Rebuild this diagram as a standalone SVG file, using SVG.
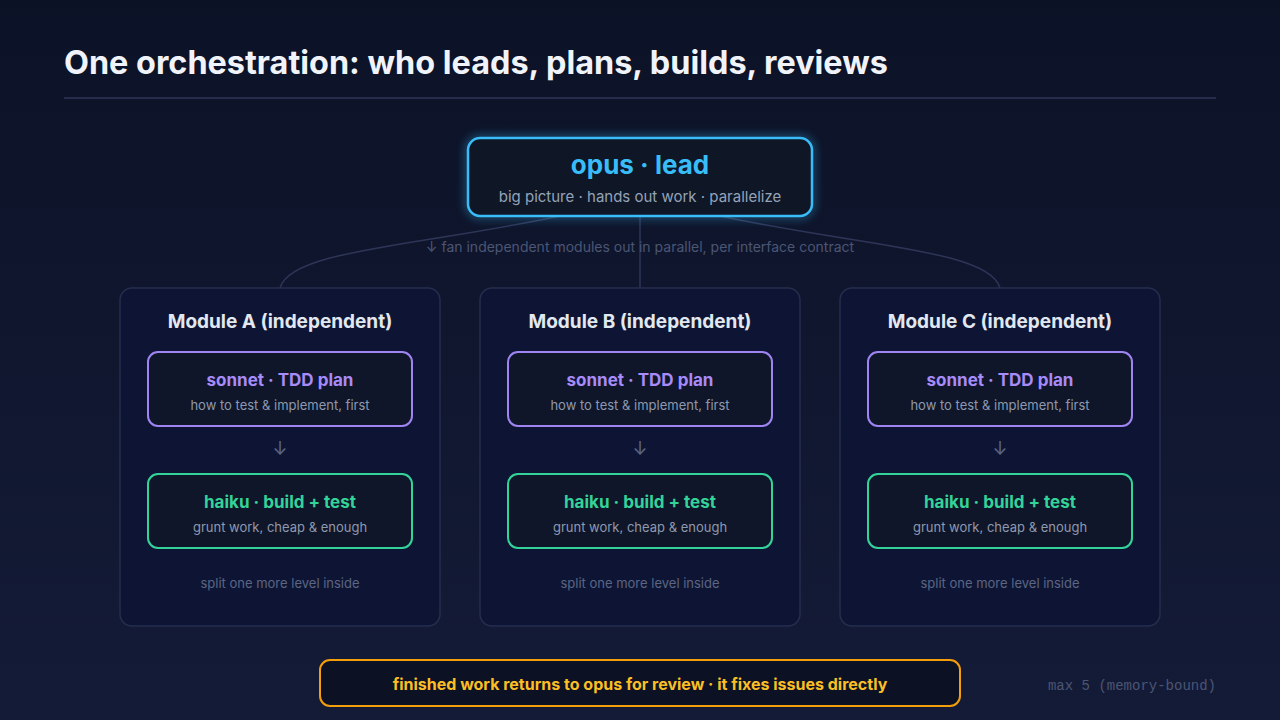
<svg xmlns="http://www.w3.org/2000/svg" width="1280" height="720" viewBox="0 0 1280 720">
<defs>
<linearGradient id="bg" x1="0" y1="0" x2="0" y2="1">
<stop offset="0" stop-color="#0c1226"/>
<stop offset="1" stop-color="#141b37"/>
</linearGradient>
<filter id="glow" x="-20%" y="-40%" width="140%" height="180%">
<feGaussianBlur in="SourceGraphic" stdDeviation="5"/>
</filter>
<style>
text{font-family:Inter,"Liberation Sans",sans-serif;}
text.mono{font-family:"Liberation Mono","DejaVu Sans Mono",monospace;}
.title{font-size:32.4px;font-weight:700;fill:#f1f3fa;}
.mod{fill:#0e1534;stroke:#252e4e;stroke-width:1.5;}
.modt{font-size:19px;font-weight:700;fill:#e2e8f0;text-anchor:middle;}
.card{fill:#0f1629;stroke-width:2;}
.son{stroke:#9f84f2;}
.hai{stroke:#34d399;}
.sont{font-size:17px;font-weight:700;fill:#a78bfa;text-anchor:middle;}
.hait{font-size:17px;font-weight:700;fill:#34d399;text-anchor:middle;}
.sub{font-size:13px;fill:#8e99b0;text-anchor:middle;}
.note{font-size:13px;fill:#5b6584;text-anchor:middle;}
.arr{font-size:18px;fill:#5b6584;text-anchor:middle;}
.conn{fill:none;stroke:#2e3658;stroke-width:1.5;}
</style>
</defs>
<rect width="1280" height="720" fill="url(#bg)"/>
<text class="title" x="64" y="74">One orchestration: who leads, plans, builds, reviews</text>
<line x1="64" y1="98" x2="1216" y2="98" stroke="#262d4a" stroke-width="2"/>

<g id="connectors">
<path class="conn" d="M560,216 C420,246 290,250 280,288"/>
<path class="conn" d="M640,216 L640,288"/>
<path class="conn" d="M720,216 C860,246 990,250 1000,288"/>
<text x="640" y="252" font-size="14" fill="#4b5574" text-anchor="middle">↓ fan independent modules out in parallel, per interface contract</text>
</g>

<g id="lead">
<rect x="468" y="138" width="344" height="78" rx="12" fill="none" stroke="#38bdf8" stroke-width="4" opacity="0.6" filter="url(#glow)"/>
<rect x="468" y="138" width="344" height="78" rx="12" fill="#0f1626" stroke="#38bdf8" stroke-width="2.5"/>
<text x="640" y="174" font-size="26" font-weight="700" fill="#38bdf8" text-anchor="middle">opus · lead</text>
<text x="640" y="202" font-size="15" fill="#94a3b8" text-anchor="middle">big picture · hands out work · parallelize</text>
</g>

<g id="moduleA">
<rect class="mod" x="120" y="288" width="320" height="338" rx="12"/>
<text class="modt" x="280" y="328">Module A (independent)</text>
<rect class="card son" x="148" y="352" width="264" height="74" rx="10"/>
<text class="sont" x="280" y="386">sonnet · TDD plan</text>
<text class="sub" x="280" y="410">how to test &amp; implement, first</text>
<text class="arr" x="280" y="455">↓</text>
<rect class="card hai" x="148" y="474" width="264" height="74" rx="10"/>
<text class="hait" x="280" y="508">haiku · build + test</text>
<text class="sub" x="280" y="532">grunt work, cheap &amp; enough</text>
<text class="note" x="280" y="588">split one more level inside</text>
</g>

<g id="moduleB">
<rect class="mod" x="480" y="288" width="320" height="338" rx="12"/>
<text class="modt" x="640" y="328">Module B (independent)</text>
<rect class="card son" x="508" y="352" width="264" height="74" rx="10"/>
<text class="sont" x="640" y="386">sonnet · TDD plan</text>
<text class="sub" x="640" y="410">how to test &amp; implement, first</text>
<text class="arr" x="640" y="455">↓</text>
<rect class="card hai" x="508" y="474" width="264" height="74" rx="10"/>
<text class="hait" x="640" y="508">haiku · build + test</text>
<text class="sub" x="640" y="532">grunt work, cheap &amp; enough</text>
<text class="note" x="640" y="588">split one more level inside</text>
</g>

<g id="moduleC">
<rect class="mod" x="840" y="288" width="320" height="338" rx="12"/>
<text class="modt" x="1000" y="328">Module C (independent)</text>
<rect class="card son" x="868" y="352" width="264" height="74" rx="10"/>
<text class="sont" x="1000" y="386">sonnet · TDD plan</text>
<text class="sub" x="1000" y="410">how to test &amp; implement, first</text>
<text class="arr" x="1000" y="455">↓</text>
<rect class="card hai" x="868" y="474" width="264" height="74" rx="10"/>
<text class="hait" x="1000" y="508">haiku · build + test</text>
<text class="sub" x="1000" y="532">grunt work, cheap &amp; enough</text>
<text class="note" x="1000" y="588">split one more level inside</text>
</g>

<g id="review">
<rect x="320" y="660" width="640" height="46" rx="10" fill="#0c1224" stroke="#f59e0b" stroke-width="2"/>
<text x="640" y="690" font-size="16" font-weight="700" fill="#fbbf24" text-anchor="middle">finished work returns to opus for review · it fixes issues directly</text>
</g>

<text class="mono" x="1216" y="690" font-size="14" fill="#4b5574" text-anchor="end">max 5 (memory-bound)</text>
</svg>
